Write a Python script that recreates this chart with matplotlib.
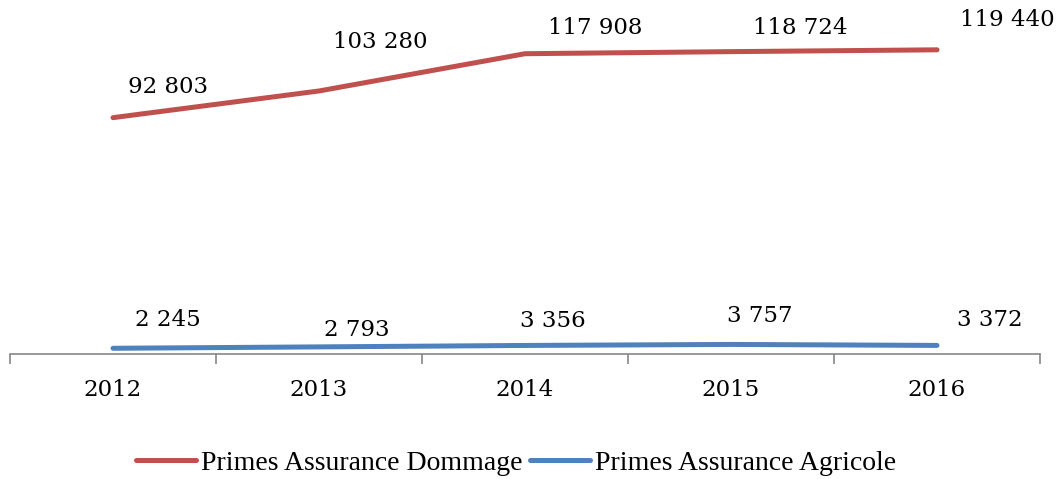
import matplotlib
matplotlib.use("Agg")
import matplotlib.pyplot as plt
from matplotlib.ticker import FixedLocator

years = ["2012", "2013", "2014", "2015", "2016"]
dommage = [92803, 103280, 117908, 118724, 119440]
agricole = [2245, 2793, 3356, 3757, 3372]
series_names = ["Primes Assurance Dommage", "Primes Assurance Agricole"]

RED = "#C0504D"
BLUE = "#4F81BD"
AXC = "#868686"

# label offsets in pixels (dx, dy upward)
off_d = [(55, 31), (61, 49), (70, 26), (69, 24), (70, 30)]
off_a = [(55, 28), (38, 17), (28, 24), (29, 28), (53, 25)]

fig = plt.figure(figsize=(10.6, 4.79), dpi=100)
ax = fig.add_axes([10/1060, 1 - 354/479, 1030/1060, 354/479])
x = list(range(len(years)))
l1, = ax.plot(x, dommage, color=RED, lw=3.6, solid_capstyle="round", label=series_names[0])
l2, = ax.plot(x, agricole, color=BLUE, lw=3.6, solid_capstyle="round", label=series_names[1])

ax.set_xlim(-0.5, len(years) - 0.5)
ax.set_ylim(0, 139000)
for s in ["top", "right", "left"]:
    ax.spines[s].set_visible(False)
ax.spines["bottom"].set_color(AXC)
ax.spines["bottom"].set_linewidth(1.2)
ax.set_yticks([])
ax.set_xticks(x)
ax.set_xticklabels(years, fontfamily="DejaVu Serif", fontsize=16.5)
ax.tick_params(axis="x", which="major", length=0, pad=18)
ax.xaxis.set_minor_locator(FixedLocator([i - 0.5 for i in range(len(years) + 1)]))
ax.tick_params(axis="x", which="minor", length=7, width=1.2, color=AXC)

def fmt(v):
    return f"{v:,}".replace(",", " ")

for xi, v, (dx, dy) in zip(x, dommage, off_d):
    ax.annotate(fmt(v), (xi, v), xytext=(dx, dy), textcoords="offset pixels",
                ha="center", va="center", fontfamily="DejaVu Serif", fontsize=16.5,
                annotation_clip=False)
for xi, v, (dx, dy) in zip(x, agricole, off_a):
    ax.annotate(fmt(v), (xi, v), xytext=(dx, dy), textcoords="offset pixels",
                ha="center", va="center", fontfamily="DejaVu Serif", fontsize=16.5,
                annotation_clip=False)

leg = fig.legend(handles=[l1, l2], loc="center", bbox_to_anchor=(516/1060, 1 - 463/479),
                 ncol=2, frameon=False, handlelength=2.16, handletextpad=0.18,
                 columnspacing=0.25, prop={"family": "Liberation Serif", "size": 20})
for h in leg.legend_handles:
    h.set_linewidth(3.6)

fig.savefig("out.png", dpi=100)
